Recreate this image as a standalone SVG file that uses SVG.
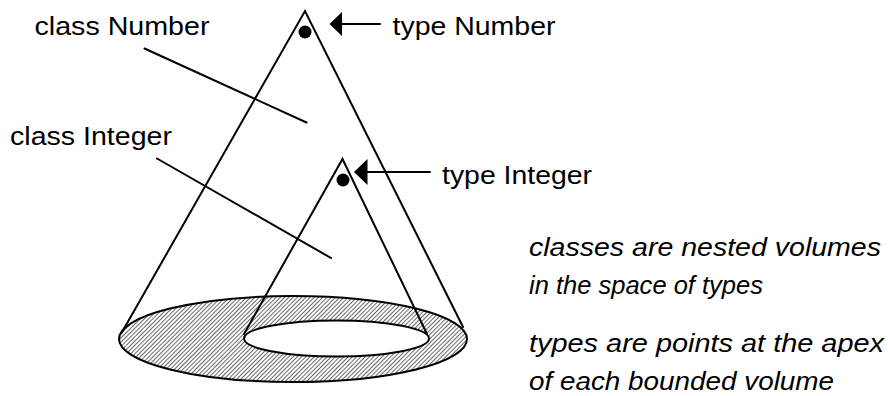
<svg xmlns="http://www.w3.org/2000/svg" width="888" height="396" viewBox="0 0 888 396">
<style>
.ln{stroke:#000;stroke-width:2;fill:none;stroke-linecap:round}
.lbl{font-family:"Liberation Sans",Arial,sans-serif;font-size:25.5px;fill:#000}
.it{font-style:italic}
</style>
<defs>
<pattern id="hatch" patternUnits="userSpaceOnUse" width="3" height="3" patternTransform="rotate(45)">
<rect width="3" height="3" fill="#fff"/>
<line x1="0" y1="0" x2="0" y2="3" stroke="#000" stroke-width="1.2"/>
</pattern>
</defs>
<rect width="888" height="396" fill="#fff"/>
<g id="ring">
<path d="M119,339 a174,43 0 1,0 348,0 a174,43 0 1,0 -348,0 Z M244,338.5 a92.5,18 0 1,0 185,0 a92.5,18 0 1,0 -185,0 Z" fill="url(#hatch)" fill-rule="evenodd" stroke="#000" stroke-width="2"/>
</g>
<g id="cone-number">
<polyline class="ln" points="121.5,333 305,11 463,327"/>
<circle cx="305" cy="32" r="6.5" fill="#000"/>
</g>
<g id="cone-integer">
<polyline class="ln" points="244,334 342.5,159 427,334"/>
<circle cx="343" cy="180" r="6.5" fill="#000"/>
</g>
<g id="labels">
<text class="lbl" x="34.5" y="35" textLength="175" lengthAdjust="spacingAndGlyphs">class Number</text>
<text class="lbl" x="10" y="145" textLength="162" lengthAdjust="spacingAndGlyphs">class Integer</text>
<text class="lbl" x="392.5" y="35" textLength="163" lengthAdjust="spacingAndGlyphs">type Number</text>
<text class="lbl" x="442" y="184" textLength="150" lengthAdjust="spacingAndGlyphs">type Integer</text>
<text class="lbl it" x="529" y="256" textLength="352" lengthAdjust="spacingAndGlyphs">classes are nested volumes</text>
<text class="lbl it" x="529" y="294" textLength="234" lengthAdjust="spacingAndGlyphs">in the space of types</text>
<text class="lbl it" x="529" y="352" textLength="355" lengthAdjust="spacingAndGlyphs">types are points at the apex</text>
<text class="lbl it" x="529" y="390" textLength="305" lengthAdjust="spacingAndGlyphs">of each bounded volume</text>
</g>
<g id="connectors">
<line class="ln" x1="144.5" y1="48.5" x2="306.5" y2="122.5"/>
<line class="ln" x1="157" y1="158.5" x2="331" y2="258"/>
<line class="ln" x1="340" y1="24" x2="380" y2="24"/>
<polygon points="329.5,24 342,12 342,36" fill="#000"/>
<line class="ln" x1="366" y1="172" x2="430" y2="172"/>
<polygon points="354,172 367.5,159 367.5,185" fill="#000"/>
</g>
</svg>
